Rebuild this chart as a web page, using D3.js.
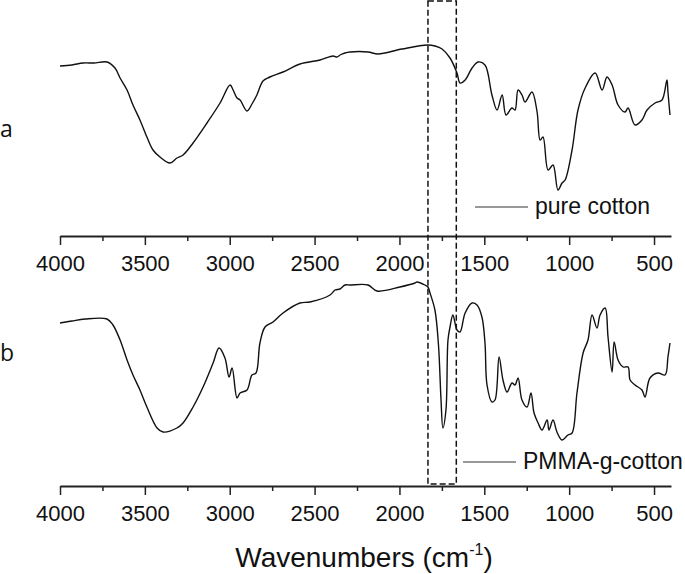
<!DOCTYPE html>
<html>
<head>
  <meta charset="UTF-8">
  <style>
    body {
      margin: 0;
      padding: 0;
      background-color: #ffffff;
    }
    svg {
      display: block;
    }
    text {
      font-family: Arial, "Liberation Sans", sans-serif !important;
      fill: #111;
    }
    text.letter {
      font-family: "Open Sans", sans-serif !important;
    }
    .tick text {
      font-size: 22px;
    }
  </style>
</head>
<body>
  <svg></svg>
  <script src="https://d3js.org/d3.v7.min.js"></script>
  <script>
  let width = 685, height = 574;

  // FTIR spectra: [wavenumber, transmittance (a.u.)]
  const pureCotton = [
    [4000,174],[3930,175],[3864,177],[3800,177],[3723,178],[3676,172],[3646,162],[3605,150],
    [3570,135],[3529,120],[3488,103],[3452,90],[3411,83],[3352,77],[3311,82],[3275,85],
    [3216,97],[3134,117],[3057,137],[2998,155],[2980,150],[2957,142],[2939,140],[2898,129],
    [2869,136],[2840,145],[2804,159],[2763,163],[2686,168],[2586,176],[2468,180],[2391,184],
    [2368,183],[2350,185],[2321,187],[2291,188],[2185,188],[2126,186],[1985,191],[1837,195],
    [1790,194],[1749,191],[1702,182],[1661,167],[1643,157],[1613,160],[1572,172],[1537,178],
    [1496,175],[1455,145],[1425,130],[1395,145],[1372,125],[1337,132],[1319,130],[1301,150],
    [1278,145],[1260,138],[1219,148],[1189,128],[1171,100],[1154,103],[1124,70],[1095,75],
    [1066,50],[1042,57],[1024,60],[983,90],[948,130],[906,152],[847,167],[806,150],
    [777,163],[747,155],[712,135],[671,128],[653,132],[612,115],[571,120],[541,130],
    [494,137],[453,140],[424,160],[418,148],[406,125]
  ];

  const pmmaCotton = [
    [4000,167],[3930,169],[3853,171],[3723,171],[3688,165],[3646,150],[3605,130],[3570,115],
    [3529,100],[3488,83],[3428,62],[3393,58],[3311,62],[3275,67],[3216,83],[3157,103],
    [3098,127],[3063,142],[3028,132],[3004,113],[2986,122],[2957,92],[2939,97],[2898,100],
    [2869,115],[2845,117],[2822,147],[2792,163],[2745,168],[2686,177],[2586,187],[2527,188],
    [2409,195],[2379,200],[2350,201],[2321,205],[2291,205],[2185,205],[2132,199],[1997,203],
    [1909,207],[1897,208],[1850,205],[1832,203],[1820,197],[1791,180],[1770,145],[1755,90],
    [1744,62],[1726,80],[1714,150],[1702,163],[1685,175],[1661,160],[1643,158],[1613,177],
    [1572,187],[1543,185],[1514,173],[1496,147],[1484,105],[1455,88],[1437,90],[1413,133],
    [1390,110],[1366,98],[1337,107],[1319,105],[1301,112],[1278,90],[1248,83],[1225,97],
    [1207,77],[1183,67],[1160,60],[1130,70],[1119,60],[1095,70],[1072,58],[1042,50],
    [1007,55],[983,57],[954,97],[918,137],[889,150],[865,175],[836,162],[818,175],
    [788,182],[771,153],[747,118],[735,148],[712,130],[682,123],[653,123],[641,110],
    [612,105],[571,100],[553,93],[524,112],[477,117],[435,115],[418,133],[406,147]
  ];

  const majorTicks = [4000, 3500, 3000, 2500, 2000, 1500, 1000, 500];
  const minorTicks = [3750, 3250, 2750, 2250, 1750, 1250, 750];
  const highlightBand = [1832, 1665];

  const panels = [
    { letter: "a", name: "pure cotton", data: pureCotton, axisY: 236, top: 36,
      letterY: 137, legendX: 475, legendY: 207 },
    { letter: "b", name: "PMMA-g-cotton", data: pmmaCotton, axisY: 486, top: 286,
      letterY: 361, legendX: 463, legendY: 462 }
  ];

  let svg = d3.select("svg")
      .attr("width", width)
      .attr("height", height);

  let x = d3.scaleLinear().domain([4000, 400]).range([60, 671]);

  panels.forEach(p => {
      let y = d3.scaleLinear().domain([0, 200]).range([p.axisY + 4, p.top + 4]);

      let line = d3.line()
          .x(d => x(d[0]))
          .y(d => y(d[1]))
          .curve(d3.curveCatmullRom.alpha(0.5));

      svg.append("path")
          .datum(p.data)
          .attr("d", line)
          .attr("fill", "none")
          .attr("stroke", "#111")
          .attr("stroke-width", 1.4)
          .attr("stroke-linejoin", "round");

      // minor ticks
      svg.append("g")
          .attr("transform", `translate(0, ${p.axisY})`)
          .call(d3.axisBottom(x).tickValues(minorTicks).tickSize(5).tickFormat(""))
          .call(g => g.select(".domain").remove())
          .selectAll("line").attr("stroke", "#222").attr("stroke-width", 1.5);

      let axis = svg.append("g")
          .attr("transform", `translate(0, ${p.axisY})`)
          .call(d3.axisBottom(x).tickValues(majorTicks).tickSize(9).tickPadding(10)
              .tickSizeOuter(0).tickFormat(d3.format("d")));
      axis.select(".domain").attr("stroke", "#222").attr("stroke-width", 1.8);
      axis.selectAll(".tick line").attr("stroke", "#222").attr("stroke-width", 1.5);

      svg.append("text")
          .attr("class", "letter")
          .attr("x", 0)
          .attr("y", p.letterY)
          .attr("font-size", 23)
          .text(p.letter);

      svg.append("line")
          .attr("x1", p.legendX).attr("x2", p.legendX + 53)
          .attr("y1", p.legendY).attr("y2", p.legendY)
          .attr("stroke", "#333").attr("stroke-width", 1.2);

      svg.append("text")
          .attr("x", p.legendX + 60)
          .attr("y", p.legendY + 7)
          .attr("font-size", 23)
          .text(p.name);
  });

  // dashed box around the C=O band
  svg.append("rect")
      .attr("x", x(highlightBand[0]))
      .attr("y", 1)
      .attr("width", x(highlightBand[1]) - x(highlightBand[0]))
      .attr("height", 483)
      .attr("fill", "none")
      .attr("stroke", "#111")
      .attr("stroke-width", 1.5)
      .attr("stroke-dasharray", "6,3");

  let title = svg.append("text")
      .attr("x", 364)
      .attr("y", 567)
      .attr("text-anchor", "middle")
      .attr("font-size", 28);
  title.append("tspan").text("Wavenumbers (cm");
  title.append("tspan").attr("font-size", 16).attr("dy", -12).text("-1");
  title.append("tspan").attr("dy", 12).text(")");
  </script>
</body>
</html>
